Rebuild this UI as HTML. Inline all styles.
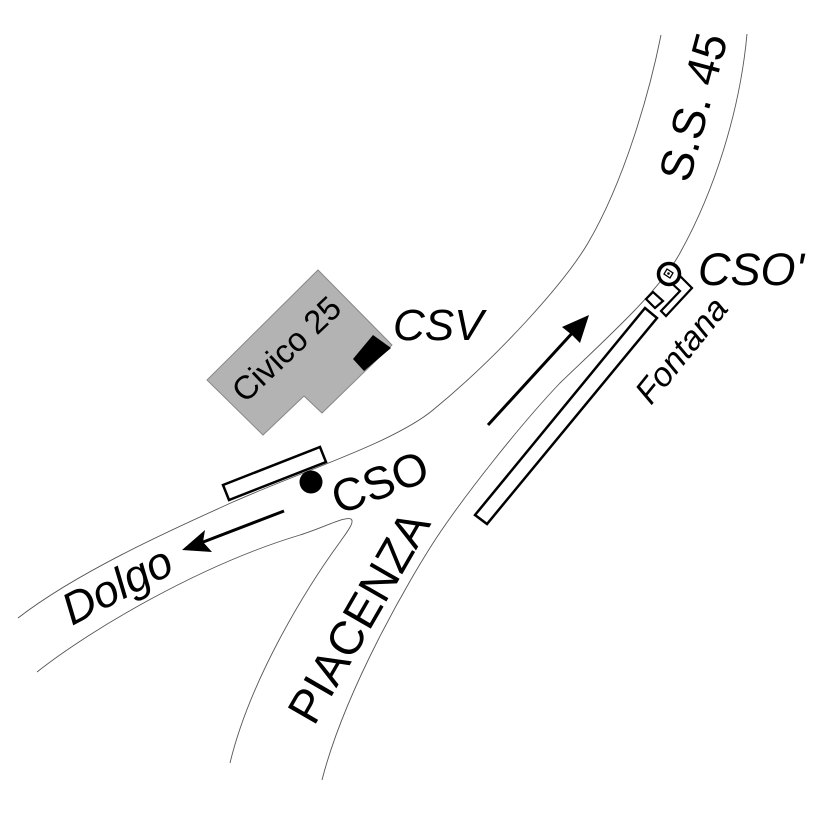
<!DOCTYPE html>
<html>
<head>
<meta charset="utf-8">
<style>
  html, body { margin: 0; padding: 0; background: #ffffff; }
  svg { display: block; }
  text { font-family: "Liberation Sans", Arial, sans-serif; fill: #000; }
</style>
</head>
<body>
<svg width="827" height="827" viewBox="0 0 827 827" xmlns="http://www.w3.org/2000/svg">
  <rect x="0" y="0" width="827" height="827" fill="#ffffff"/>

  <!-- Road edges -->
  <g fill="none" stroke="#555" stroke-width="0.9">
    <path d="M661 35 C650 90 625 180 588 243 C565 282 500 355 433 410 C393 443 300 472 233 502 C180 526 80 570 18 618"/>
    <path d="M747 34 C740 110 715 190 680 253 C660 290 610 335 560 383 C520 425 465 495 437 537 C410 578 345 690 322 780"/>
    <path d="M37 672 C90 630 200 565 300 535 C325 527 345 516 351 519 C355 522 347 532 340 542 C305 590 250 680 230 763"/>
  </g>

  <!-- Building Civico 25 -->
  <polygon points="318,270 392,345 322,413 304,396 263,435 207,380" fill="#b3b3b3" stroke="#888" stroke-width="1"/>
  <polygon points="373,335 391,348 364,371 353,359" fill="#000"/>
  <text transform="translate(245,404) rotate(-43.5)" font-size="33">Civico 25</text>

  <!-- CSO rectangle and dot -->
  <polygon points="223,485 320,447 326,462 229,500" fill="#fff" stroke="#000" stroke-width="2.5"/>
  <circle cx="311" cy="482" r="11.5" fill="#000"/>

  <!-- Long Fontana rectangle -->
  <polygon points="475,515 645,308 657,318 487,524" fill="#fff" stroke="#000" stroke-width="2.5"/>
  <polygon points="646,299 653,292 663,301 655,308" fill="#fff" stroke="#000" stroke-width="2.2"/>
  <polyline points="667,279 680,291 661,311 666,316 692,288 673,269" fill="none" stroke="#000" stroke-width="2.2"/>
  <!-- CSO' circle -->
  <circle cx="669" cy="274" r="10.5" fill="#fff" stroke="#000" stroke-width="3.5"/>
  <polygon points="667,269 673,273 670,278 664,274" fill="none" stroke="#000" stroke-width="1.3"/>
  <circle cx="668.5" cy="273.5" r="1.3" fill="#000"/>

  <!-- Arrow up-right -->
  <line x1="488" y1="425" x2="575" y2="330" stroke="#000" stroke-width="3"/>
  <polygon points="589,315 580,343 572,335 562,327" fill="#000"/>

  <!-- Arrow left (Dolgo) -->
  <line x1="284" y1="511" x2="198" y2="544" stroke="#000" stroke-width="3"/>
  <polygon points="182,550 205,530 203,542 212,552" fill="#000"/>

  <!-- Labels -->
  <text x="698" y="285" font-size="45" font-style="italic">CSO'</text>
  <text x="393" y="340" font-size="44" font-style="italic">CSV</text>
  <text transform="translate(339,515) rotate(-21)" font-size="46">CSO</text>
  <text transform="translate(72,626) rotate(-27.5)" font-size="45" font-style="italic">Dolgo</text>
  <text transform="translate(314,727) rotate(-60)" font-size="47">PIACENZA</text>
  <text transform="translate(689,184) rotate(-75)" font-size="46">S.S. 45</text>
  <text transform="translate(651,406) rotate(-51)" font-size="34" font-style="italic">Fontana</text>
</svg>
</body>
</html>
